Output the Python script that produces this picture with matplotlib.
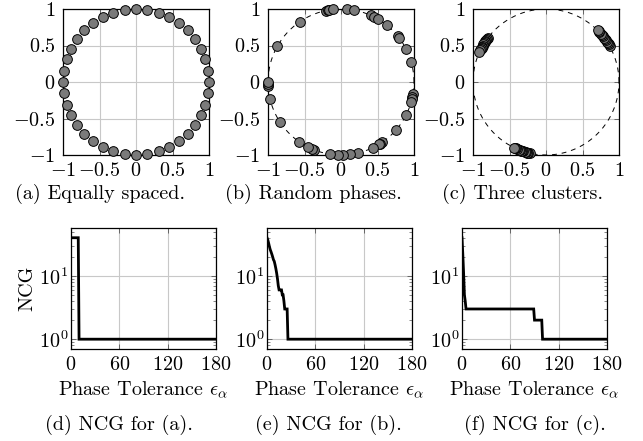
import numpy as np
import matplotlib
matplotlib.use("Agg")
import matplotlib.pyplot as plt
from matplotlib.ticker import LogLocator, NullFormatter

plt.rcParams['font.family'] = 'serif'
plt.rcParams['font.serif'] = ['cmr10']
plt.rcParams['mathtext.fontset'] = 'cm'
plt.rcParams['axes.formatter.use_mathtext'] = True
plt.rcParams['font.size'] = 14.5

# phase angles (degrees) of the points on the unit circle
phases_equal = [9 * k for k in range(40)]
phases_random = [102, 100.5, 99.5, 96, 85.5, 79.6, 65.8, 62.8, 60, 51.3,
                 39.2, 37, 26.6, 16.3, -9.2, -12, -13.7, -16, -26.8, -40.7,
                 -55.7, -57.9, -58.5, -64.2, -76.3, -82.9, -88.4, -92, -99,
                 248.3, 246.7, 243.5, 235.3, 213.3, 193.2, 183, 181.8, 180,
                 150.5, 124.2]
phases_clusters = [143, 144, 145, 146, 147, 148, 149, 150, 151, 152, 153, 154, 156,
                   29.5, 31, 32, 33.5, 35, 36, 37.5, 39, 40, 41.5, 43, 44, 45,
                   257, 256, 255, 254, 253, 252, 251, 250, 249, 248, 247, 245.5, 244.5, 244]

# NCG vs phase tolerance
eps_a = [0, 9, 10, 180]
ncg_a = [40, 40, 1, 1]
eps_b = list(range(0, 27)) + [180]
ncg_b = [40, 37, 33, 29, 26, 24, 22, 20, 18, 17, 15, 13, 11, 9, 7, 6, 6, 6, 6,
         5, 5, 4, 3, 3, 3, 3, 1, 1]
eps_c = [0, 1, 2, 3, 4, 5, 89, 90, 99, 100, 180]
ncg_c = [40, 22, 11, 5, 4, 3, 3, 2, 2, 1, 1]

top_titles = ["(a) Equally spaced.", "(b) Random phases.", "(c) Three clusters."]
bottom_titles = ["(d) NCG for (a).", "(e) NCG for (b).", "(f) NCG for (c)."]

W, H = 643, 441
fig = plt.figure(figsize=(W / 100, H / 100), dpi=100)


def box(l, t, w, h):
    return [l / W, (H - t - h) / H, w / W, h / H]


def style_axes(ax, ypad):
    ax.grid(True, color="#c8c8c8", lw=0.8)
    ax.set_axisbelow(True)
    ax.tick_params(which="both", direction="in", top=True, right=True,
                   color="#555555")
    ax.tick_params(which="major", length=3.5, width=0.6)
    ax.tick_params(which="minor", length=2, width=0.5)
    ax.tick_params(axis="x", pad=5)
    ax.tick_params(axis="y", pad=ypad)
    for s in ax.spines.values():
        s.set_linewidth(0.9)


circle_t = np.linspace(0, 2 * np.pi, 400)
top_lefts = [63, 268, 473]
top_caption_x = [100, 313, 522]
all_phases = [phases_equal, phases_random, phases_clusters]
for i, (ph, left) in enumerate(zip(all_phases, top_lefts)):
    ax = fig.add_axes(box(left, 9, 146, 146))
    if i > 0:
        ax.plot(np.cos(circle_t), np.sin(circle_t), color="black", lw=0.7,
                ls=(0, (5, 5)), zorder=2)
    rad = np.deg2rad(ph)
    ax.plot(np.cos(rad), np.sin(rad), ls="none", marker="o", ms=7,
            mfc="#7a7a7a", mec="black", mew=0.7, clip_on=False, zorder=3)
    ax.set_xlim(-1, 1)
    ax.set_ylim(-1, 1)
    ticks = [-1, -0.5, 0, 0.5, 1]
    labels = [r"$-1$", r"$-0.5$", r"$0$", r"$0.5$", r"$1$"]
    ax.set_xticks(ticks, labels)
    ax.set_yticks(ticks, labels)
    style_axes(ax, 5.5)
    fig.text(top_caption_x[i] / W, 1 - 194 / H, top_titles[i],
             ha="center", va="center")

bottom_lefts = [71, 267, 462]
bottom_caption_x = [119, 328, 535]
all_eps = [eps_a, eps_b, eps_c]
all_ncg = [ncg_a, ncg_b, ncg_c]
for i, left in enumerate(bottom_lefts):
    ax = fig.add_axes(box(left, 228, 145, 121))
    ax.plot(all_eps[i], all_ncg[i], color="black", lw=2.0,
            solid_joinstyle="miter", zorder=3)
    ax.set_yscale("log")
    ax.set_xlim(0, 180)
    ax.set_ylim(0.70, 57)
    ax.set_xticks([0, 60, 120, 180], ["$0$", "$60$", "$120$", "$180$"])
    ax.set_yticks([1, 10], [r"$10^{0}$", r"$10^{1}$"])
    ax.yaxis.set_minor_locator(LogLocator(base=10, subs=np.arange(2, 10)))
    ax.yaxis.set_minor_formatter(NullFormatter())
    style_axes(ax, 2)
    ax.set_xlabel(r"Phase Tolerance $\epsilon_\alpha$")
    ax.xaxis.label.set_va("center")
    ax.xaxis.set_label_coords(0.5, (349 - 390) / 121)
    if i == 0:
        ax.set_ylabel("NCG")
        ax.yaxis.label.set_va("center")
        ax.yaxis.set_label_coords((27 - 71) / 145, 0.5)
    fig.text(bottom_caption_x[i] / W, 1 - 425 / H, bottom_titles[i],
             ha="center", va="center")

fig.savefig("out.png", dpi=100)
